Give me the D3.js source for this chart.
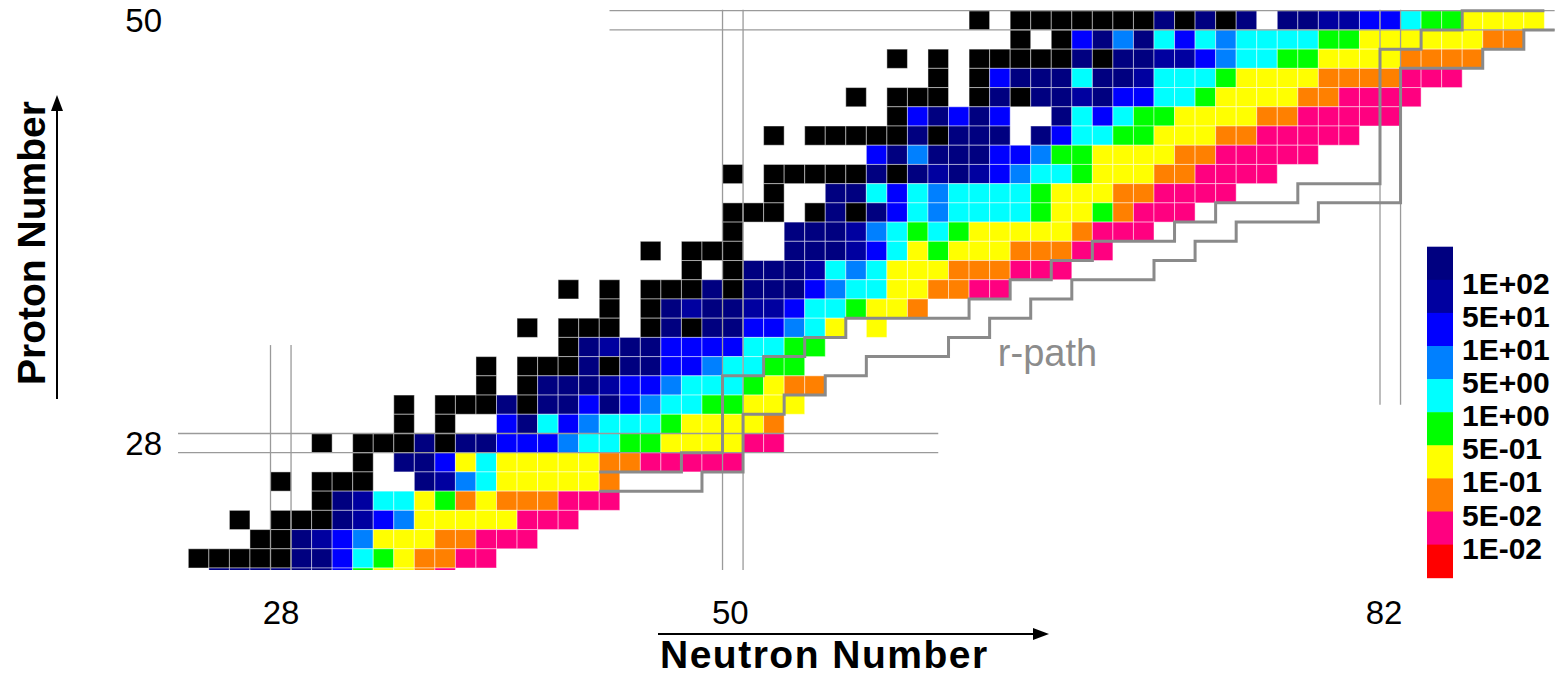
<!DOCTYPE html>
<html>
<head>
<meta charset="utf-8">
<script src="https://cdn.jsdelivr.net/npm/d3@7"></script>
<style>
  html, body { margin: 0; padding: 0; background: #fff; }
  svg { display: block; }
  text { font-family: "Liberation Sans", Arial, Helvetica, sans-serif; }
</style>
</head>
<body>
<svg id="chart" width="1562" height="677"></svg>
<script>
// Rows of the nuclide chart, top (Z=50) to bottom.
const protonNumbers = [50, 49, 48, 47, 46, 45, 44, 43, 42, 41, 40, 39, 38, 37, 36,
                       35, 34, 33, 32, 31, 30, 29, 28, 27, 26, 25, 24, 23, 22, 21];
// Neutron number of the first cell in each row.
const firstNeutron = [62, 64, 58, 60, 56, 58, 52, 57, 50, 52, 50, 50, 46, 48, 42,
                      44, 40, 42, 38, 38, 34, 34, 30, 32, 28, 30, 26, 27, 24, 25];
// One character per nuclide: K = stable, D..R = yield class (see yieldClasses), "." = none.
const yieldRows = [
  "K.KKKKKKKDKDKD.DDNNBBCGGYYYY",
  "K.KBDMDCBCMCCCCGGYYYYYYOO",
  "K.K.KKKKKDKDDNNBMCCGGYYYYOOOO",
  "K.KBDDDCDDNCCCGYYYYOOOOPPP",
  "K.KKK.KDKDDNDBBCCGYYYYOOPPPP",
  "KBDBDB..DCBCGGYYYYOOPPPPP",
  "K.KKKKKDKDDD.DBCCGGYYYOOPPPPP",
  "BDMDDDBBMGGYYYYOOPPPPP",
  "K.KKKKKDKDNDNBMCCGYYYOOPPPP",
  "K..DDCBCMCCCCGYYYOOPPPP",
  "KKK.KDKDBCMCCCCGYYGOPPP",
  "K..DDDNMCGCGYYYYYOPPP",
  "K.KKK..DDDNBCYGYYYOOOPP",
  "K.KDDDNCMCYYYOOOPPP",
  "K.K.KKKDKDDDBMCCYYOOPP",
  "K.KDNDDNNBCCGYYO",
  "K.KKK.KDKDDBBMCY.Y",
  "KDNDDBBBBCCGG",
  "K.KKKDKDDBBMCCGG",
  "K.KDDDNBBMCCCGYOO",
  "K.KKKDKDDBDBMCCGGYYY",
  "K.K..BDCBMCCCGYYYYO",
  "K.KKKDKDDBBBMCCGGYYYYPP",
  "K.DDBYCYYYYYOOPPPPP",
  "K.KKK..DNMCYYYYYO",
  "KDNCCYGOYOOOPPP",
  "K.KKKDNBMYYYYYPPP",
  "KKDNBMYYYOOPPP",
  "KKKKKDDBCGYOOPP",
  "DDDDDDBGYYOP"
];

// Yield classes, highest first, with their colours.
const yieldClasses = ["D", "N", "B", "M", "C", "G", "Y", "O", "P", "R"];
const classColors = ["#000080", "#0000a0", "#0000ff", "#0080ff", "#00ffff",
                     "#00ff00", "#ffff00", "#ff8000", "#ff0080", "#ff0000"];
const stableColor = "#000000";
const legendLabels = ["1E+02", "5E+01", "1E+01", "5E+00", "1E+00",
                      "5E-01", "1E-01", "5E-02", "1E-02"];

// Magic numbers and the extent of their guide lines.
const magicNeutrons = [28, 50, 82];
const magicNeutronSpan = [[21, 33.1], [21, 50.55], [30, 50.55]];
const magicProtons = [28, 50];
const magicProtonSpan = [[23, 60], [44, 90]];
const xTicks = [28, 50, 82];
const yTicks = [28, 50];

// Staircase paths (cell-edge corners, [N, Z]).
const upperPath = [[43.5,26.5],[47.5,26.5],[47.5,27.5],[49.5,27.5],[49.5,31.5],[51.5,31.5],
  [51.5,32.5],[53.5,32.5],[53.5,33.5],[55.5,33.5],[55.5,34.5],[61.5,34.5],[61.5,35.5],
  [63.5,35.5],[63.5,36.5],[65.5,36.5],[65.5,37.5],[67.5,37.5],[67.5,38.5],[71.5,38.5],
  [71.5,39.5],[73.5,39.5],[73.5,40.5],[77.5,40.5],[77.5,41.5],[81.5,41.5],[81.5,48.5],
  [83.5,48.5],[83.5,49.5],[85.5,49.5],[85.5,50.5],[89.5,50.5]];
const rPath = [[43.5,25.5],[48.5,25.5],[48.5,26.5],[50.5,26.5],[50.5,29.5],[52.5,29.5],
  [52.5,30.5],[54.5,30.5],[54.5,31.5],[56.5,31.5],[56.5,32.5],[60.5,32.5],[60.5,33.5],
  [62.5,33.5],[62.5,34.5],[64.5,34.5],[64.5,35.5],[66.5,35.5],[66.5,36.5],[70.5,36.5],
  [70.5,37.5],[72.5,37.5],[72.5,38.5],[74.5,38.5],[74.5,39.5],[78.5,39.5],[78.5,40.5],
  [82.5,40.5],[82.5,47.5],[86.5,47.5],[86.5,48.5],[88.5,48.5],[88.5,49.5],[90,49.5]];

const svg = d3.select("#chart");

const x = d3.scaleLinear().domain([27.5, 81.5]).range([270.5, 1380]);
const y = d3.scaleLinear().domain([50.5, 27.5]).range([10.7, 452.7]);
// tick labels sit on a slightly narrower band than the cell grid
const xLabel = d3.scaleLinear().domain([28, 82]).range([281, 1384]);
const color = d3.scaleOrdinal()
  .domain(["K"].concat(yieldClasses))
  .range([stableColor].concat(classColors));

svg.append("defs").append("clipPath").attr("id", "plot-clip")
  .append("rect").attr("x", 0).attr("y", 0).attr("width", 1562).attr("height", 570);

const plot = svg.append("g").attr("clip-path", "url(#plot-clip)");

// nuclide cells
const cells = [];
protonNumbers.forEach((z, i) => {
  Array.from(yieldRows[i]).forEach((c, j) => {
    if (c !== ".") cells.push({ z, n: firstNeutron[i] + j, c });
  });
});

plot.append("g").selectAll("rect").data(cells).join("rect")
  .attr("x", d => x(d.n - 0.5))
  .attr("y", d => y(d.z + 0.5))
  .attr("width", d => x(d.n + 0.5) - x(d.n - 0.5))
  .attr("height", d => y(d.z - 0.5) - y(d.z + 0.5))
  .attr("fill", d => color(d.c))
  .attr("stroke", "rgba(255,255,255,0.45)")
  .attr("stroke-width", 1);

// magic-number guide lines
const guides = plot.append("g").attr("stroke", "#9a9a9a").attr("stroke-width", 1.3).attr("fill", "none");
magicNeutrons.forEach((n, i) => {
  [n - 0.5, n + 0.5].forEach(e => {
    guides.append("line")
      .attr("x1", x(e)).attr("x2", x(e))
      .attr("y1", y(magicNeutronSpan[i][1])).attr("y2", y(magicNeutronSpan[i][0]));
  });
});
magicProtons.forEach((z, i) => {
  [z - 0.5, z + 0.5].forEach(e => {
    guides.append("line")
      .attr("y1", y(e)).attr("y2", y(e))
      .attr("x1", x(magicProtonSpan[i][0])).attr("x2", x(magicProtonSpan[i][1]));
  });
});

// staircase paths
const line = d3.line().x(d => x(d[0])).y(d => y(d[1])).curve(d3.curveLinear);
plot.append("g").selectAll("path").data([upperPath, rPath]).join("path")
  .attr("d", line)
  .attr("fill", "none")
  .attr("stroke", "#8a8a8a")
  .attr("stroke-width", 3)
  .attr("stroke-linejoin", "miter");

svg.append("text")
  .attr("x", x(62.9)).attr("y", y(32.0))
  .attr("fill", "#8c8c8c")
  .attr("font-size", 38)
  .text("r-path");

// tick labels
svg.append("g").selectAll("text").data(xTicks).join("text")
  .attr("x", d => xLabel(d)).attr("y", 624)
  .attr("text-anchor", "middle")
  .attr("font-size", 33)
  .attr("fill", "#000")
  .text(d => d);
svg.append("g").selectAll("text").data(yTicks).join("text")
  .attr("x", 162).attr("y", d => y(d) + 12)
  .attr("text-anchor", "end")
  .attr("font-size", 33)
  .attr("fill", "#000")
  .text(d => d);

// axis titles with arrows
svg.append("line").attr("x1", 658).attr("x2", 1036).attr("y1", 634).attr("y2", 634)
  .attr("stroke", "#000").attr("stroke-width", 2);
svg.append("path").attr("d", "M1049,634 L1033,628 L1033,640 Z").attr("fill", "#000");
svg.append("text").attr("x", 660).attr("y", 668)
  .attr("font-size", 39).attr("font-weight", "bold")
  .attr("letter-spacing", 1.5)
  .text("Neutron Number");

svg.append("line").attr("x1", 57).attr("x2", 57).attr("y1", 399).attr("y2", 108)
  .attr("stroke", "#000").attr("stroke-width", 2);
svg.append("path").attr("d", "M57,95 L51,111 L63,111 Z").attr("fill", "#000");
svg.append("text")
  .attr("transform", "translate(45,385) rotate(-90)")
  .attr("font-size", 39).attr("font-weight", "bold").text("Proton Number");

// colour legend
const legendY = d3.scaleLinear().domain([0, yieldClasses.length]).range([246.7, 577.7]);
const legend = svg.append("g");
legend.selectAll("rect").data(yieldClasses).join("rect")
  .attr("x", 1427).attr("width", 26)
  .attr("y", (d, i) => legendY(i))
  .attr("height", (d, i) => legendY(i + 1) - legendY(i) + 0.5)
  .attr("fill", d => color(d));
legend.selectAll("text").data(legendLabels).join("text")
  .attr("x", 1462)
  .attr("y", (d, i) => legendY(i + 1) + 14)
  .attr("font-size", 30).attr("font-weight", "bold")
  .attr("fill", "#000")
  .text(d => d);
</script>
</body>
</html>
